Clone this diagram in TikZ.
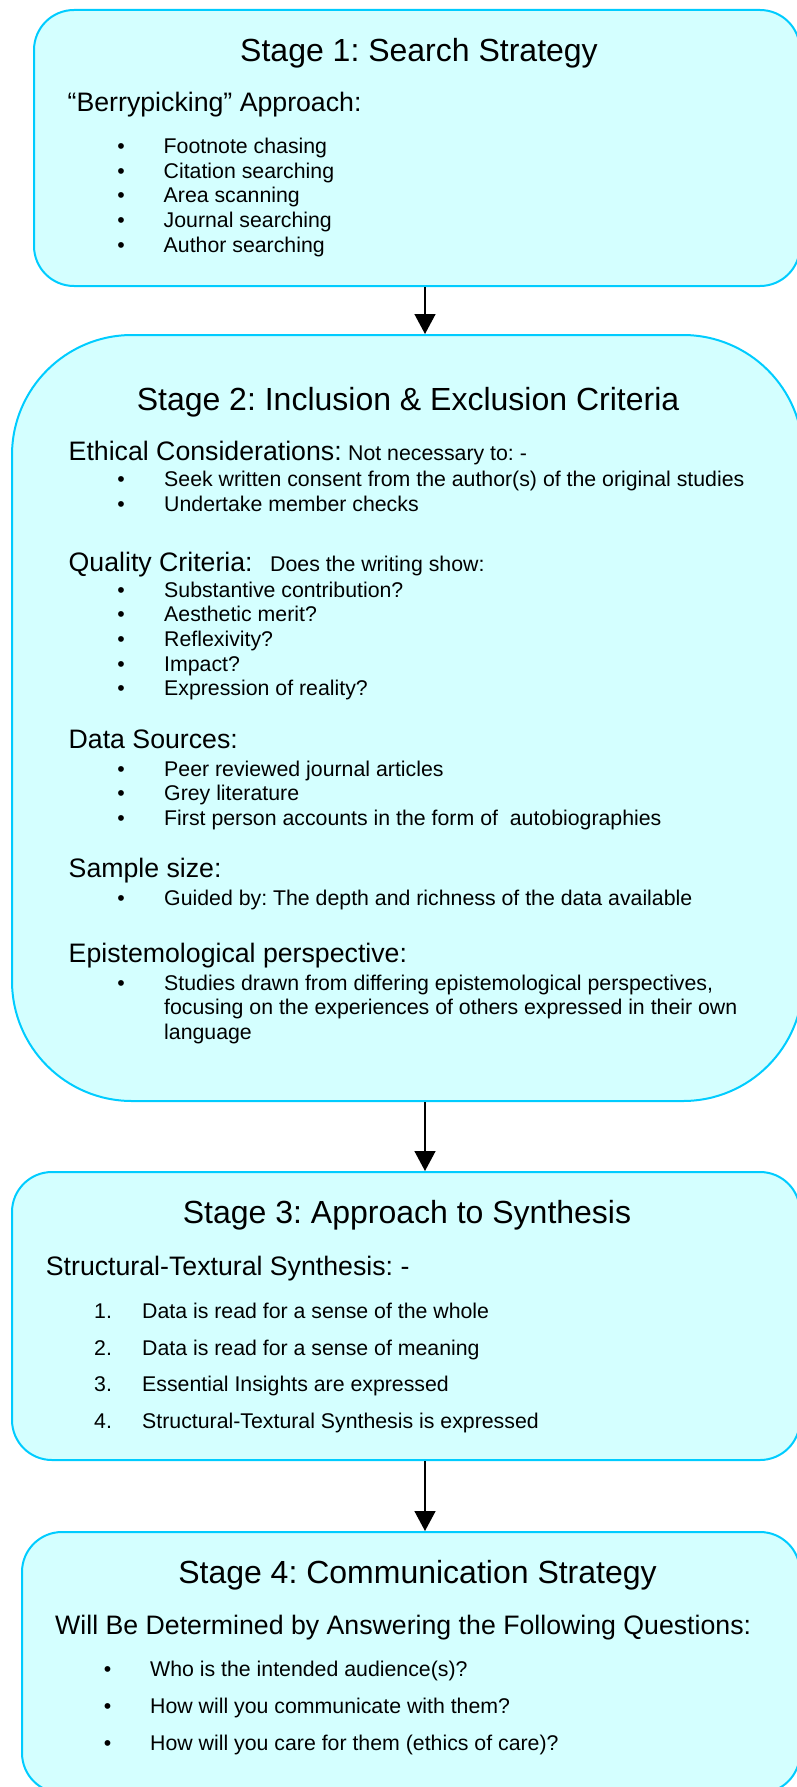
\documentclass[tikz,border=0pt]{standalone}
\usepackage{fontspec}
\setmainfont{Liberation Sans}
\usetikzlibrary{arrows.meta}
\frenchspacing
\definecolor{boxfill}{RGB}{212,255,255}
\definecolor{boxline}{RGB}{0,204,255}
\tikzset{
  stagebox/.style={draw=boxline, fill=boxfill, line width=2pt, inner sep=0pt},
  ttl/.style={anchor=base, inner sep=0pt, font=\frenchspacing\fontsize{32}{38}\selectfont},
  sub/.style={anchor=base west, inner sep=0pt, font=\frenchspacing\fontsize{26.7}{31}\selectfont},
  itm/.style={anchor=base west, inner sep=0pt, font=\frenchspacing\fontsize{21.3}{24.7}\selectfont},
  bul/.style={anchor=base, inner sep=0pt, font=\fontsize{21.3}{24.7}\selectfont},
  arr/.style={line width=1.5pt, -{Triangle[width=21pt,length=20pt]}},
  x=1pt, y=-1pt
}
\begin{document}
\begin{tikzpicture}
\useasboundingbox (0,0) rectangle (796,1787);
% boxes
\node[stagebox, rounded corners=40pt, minimum width=766pt, minimum height=276pt] (b1) at (417,148) {};
\node[stagebox, rounded corners=120pt, minimum width=791pt, minimum height=766pt] (b2) at (407.5,718) {};
\node[stagebox, rounded corners=40pt, minimum width=788pt, minimum height=288pt] (b3) at (406,1316) {};
\node[stagebox, rounded corners=40pt, minimum width=778pt, minimum height=261pt] (b4) at (411,1662.5) {};
% arrows
\coordinate (ax) at (425,0);
\draw[arr] (b1.south -| ax) -- (b2.north -| ax);
\draw[arr] (b2.south -| ax) -- (b3.north -| ax);
\draw[arr] (b3.south -| ax) -- (b4.north -| ax);
% Stage 1
\node[ttl] (t1) at (419,61.7) {Stage 1: Search Strategy};
\node[sub] (s1a) at (67.5,111.7) {“Berrypicking” Approach:};
\foreach \y/\t [count=\i] in {153.3/Footnote chasing,178.5/Citation searching,203/Area scanning,227.5/Journal searching,252/Author searching}{
  \node[bul] (s1b\i) at (121,\y) {•};
  \node[itm] (s1i\i) at (163.5,\y) {\t};
}
% Stage 2
\node[ttl] (t2) at (408,410) {Stage 2: Inclusion \& Exclusion Criteria};
\node[sub] (s2a) at (68.5,460) {Ethical Considerations:};
\node[itm] (s2a2) at (348,460) {Not necessary to: -};
\foreach \y/\t [count=\i] in {486.7/Seek written consent from the author(s) of the original studies,511.5/Undertake member checks}{
  \node[bul] (s2ab\i) at (121,\y) {•};
  \node[itm] (s2ai\i) at (164,\y) {\t};
}
\node[sub] (s2b) at (68.5,571.7) {Quality Criteria:};
\node[itm] (s2b2) at (270,571.7) {Does the writing show:};
\foreach \y/\t [count=\i] in {597.7/Substantive contribution?,621.9/Aesthetic merit?,646.6/Reflexivity?,671/Impact?,695.6/Expression of reality?}{
  \node[bul] (s2bb\i) at (121,\y) {•};
  \node[itm] (s2bi\i) at (164,\y) {\t};
}
\node[sub] (s2c) at (68.5,748) {Data Sources:};
\foreach \y/\t [count=\i] in {776/Peer reviewed journal articles,800.5/Grey literature,825/First person accounts in the form of\ \ autobiographies}{
  \node[bul] (s2cb\i) at (121,\y) {•};
  \node[itm] (s2ci\i) at (164,\y) {\t};
}
\node[sub] (s2d) at (68.5,877.3) {Sample size:};
\node[bul] (s2db1) at (121,905) {•};
\node[itm] (s2di1) at (164,905) {Guided by: The depth and richness of the data available};
\node[sub] (s2e) at (68.5,962.7) {Epistemological perspective:};
\node[bul] (s2eb1) at (121,990) {•};
\node[itm] (s2ei1) at (164,990) {Studies drawn from differing epistemological perspectives,};
\node[itm] (s2ei2) at (164,1014.5) {focusing on the experiences of others expressed in their own};
\node[itm] (s2ei3) at (164,1039) {language};
% Stage 3
\node[ttl] (t3) at (407,1223.3) {Stage 3: Approach to Synthesis};
\node[sub] (s3a) at (45.7,1275) {Structural-Textural Synthesis: -};
\foreach \y/\t [count=\i] in {1318.3/Data is read for a sense of the whole,1355/Data is read for a sense of meaning,1391.7/Essential Insights are expressed,1428.3/Structural-Textural Synthesis is expressed}{
  \node[itm] (s3n\i) at (94,\y) {\i.};
  \node[itm] (s3i\i) at (142,\y) {\t};
}
% Stage 4
\node[ttl] (t4) at (417.5,1583.3) {Stage 4: Communication Strategy};
\node[sub] (s4a) at (55,1634.3) {Will Be Determined by Answering the Following Questions:};
\foreach \y/\t [count=\i] in {1676.7/Who is the intended audience(s)?,1713.3/How will you communicate with them?,1750/How will you care for them (ethics of care)?}{
  \node[bul] (s4b\i) at (107.5,\y) {•};
  \node[itm] (s4i\i) at (150,\y) {\t};
}
\end{tikzpicture}
\end{document}
